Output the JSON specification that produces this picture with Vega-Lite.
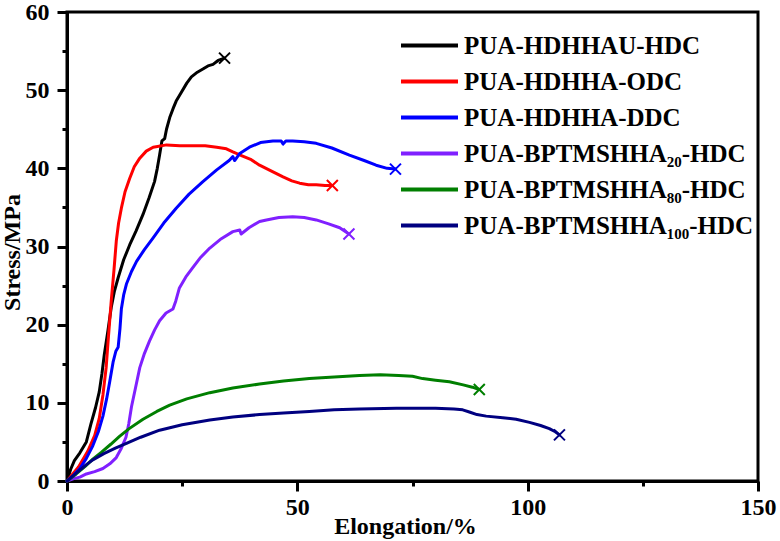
{
  "$schema": "https://vega.github.io/schema/vega-lite/v6.json",
  "autosize": {"type": "none"},
  "width": 691,
  "height": 469,
  "padding": {"left": 67, "top": 12, "right": 22, "bottom": 60},
  "background": "white",
  "config": {
    "view": {"stroke": "black", "strokeWidth": 3},
    "axis": {
      "grid": false,
      "domainColor": "black",
      "domainWidth": 3,
      "tickColor": "black",
      "tickWidth": 3,
      "labelFont": "Liberation Serif",
      "labelFontWeight": "bold",
      "labelFontSize": 24,
      "labelColor": "black",
      "titleFont": "Liberation Serif",
      "titleFontWeight": "bold",
      "titleFontSize": 24,
      "titleColor": "black"
    },
    "legend": {
      "orient": "none",
      "legendX": 350,
      "legendY": 21,
      "title": null,
      "symbolType": "M-3,0H3",
      "symbolSize": 361,
      "symbolStrokeWidth": 4,
      "labelFont": "Liberation Serif",
      "labelFontWeight": "bold",
      "labelFontSize": 25,
      "labelColor": "black",
      "labelOffset": 22,
      "labelLimit": 0,
      "rowPadding": 10
    }
  },
  "datasets": {
    "curves": [
      {"s": "PUA-HDHHAU-HDC", "x": 0, "y": 0},
      {"s": "PUA-HDHHAU-HDC", "x": 0.8, "y": 1.5},
      {"s": "PUA-HDHHAU-HDC", "x": 1.6, "y": 2.6},
      {"s": "PUA-HDHHAU-HDC", "x": 2.8, "y": 3.6},
      {"s": "PUA-HDHHAU-HDC", "x": 4.2, "y": 5.0},
      {"s": "PUA-HDHHAU-HDC", "x": 5.2, "y": 7.3},
      {"s": "PUA-HDHHAU-HDC", "x": 6.2, "y": 9.4},
      {"s": "PUA-HDHHAU-HDC", "x": 7.0, "y": 11.4},
      {"s": "PUA-HDHHAU-HDC", "x": 7.6, "y": 13.8},
      {"s": "PUA-HDHHAU-HDC", "x": 8.1, "y": 16.2},
      {"s": "PUA-HDHHAU-HDC", "x": 8.9, "y": 19.3},
      {"s": "PUA-HDHHAU-HDC", "x": 9.6, "y": 22.2},
      {"s": "PUA-HDHHAU-HDC", "x": 10.3, "y": 24.3},
      {"s": "PUA-HDHHAU-HDC", "x": 11.1, "y": 26.0},
      {"s": "PUA-HDHHAU-HDC", "x": 12.3, "y": 28.3},
      {"s": "PUA-HDHHAU-HDC", "x": 13.6, "y": 30.2},
      {"s": "PUA-HDHHAU-HDC", "x": 15.0, "y": 32.0},
      {"s": "PUA-HDHHAU-HDC", "x": 16.5, "y": 34.1},
      {"s": "PUA-HDHHAU-HDC", "x": 17.8, "y": 36.2},
      {"s": "PUA-HDHHAU-HDC", "x": 19.0, "y": 38.3},
      {"s": "PUA-HDHHAU-HDC", "x": 19.6, "y": 40.0},
      {"s": "PUA-HDHHAU-HDC", "x": 20.1, "y": 41.7},
      {"s": "PUA-HDHHAU-HDC", "x": 20.6, "y": 43.5},
      {"s": "PUA-HDHHAU-HDC", "x": 21.2, "y": 43.8},
      {"s": "PUA-HDHHAU-HDC", "x": 21.6, "y": 45.0},
      {"s": "PUA-HDHHAU-HDC", "x": 22.3, "y": 46.5},
      {"s": "PUA-HDHHAU-HDC", "x": 23.0, "y": 47.6},
      {"s": "PUA-HDHHAU-HDC", "x": 23.7, "y": 48.6},
      {"s": "PUA-HDHHAU-HDC", "x": 24.8, "y": 49.7},
      {"s": "PUA-HDHHAU-HDC", "x": 26.0, "y": 50.9},
      {"s": "PUA-HDHHAU-HDC", "x": 27.0, "y": 51.7},
      {"s": "PUA-HDHHAU-HDC", "x": 28.3, "y": 52.3},
      {"s": "PUA-HDHHAU-HDC", "x": 29.5, "y": 52.7},
      {"s": "PUA-HDHHAU-HDC", "x": 30.6, "y": 53.1},
      {"s": "PUA-HDHHAU-HDC", "x": 31.7, "y": 53.3},
      {"s": "PUA-HDHHAU-HDC", "x": 32.8, "y": 53.8},
      {"s": "PUA-HDHHAU-HDC", "x": 34.2, "y": 54.1},

      {"s": "PUA-HDHHA-ODC", "x": 0, "y": 0},
      {"s": "PUA-HDHHA-ODC", "x": 2.5, "y": 1.8},
      {"s": "PUA-HDHHA-ODC", "x": 4.5, "y": 3.8},
      {"s": "PUA-HDHHA-ODC", "x": 6.0, "y": 5.8},
      {"s": "PUA-HDHHA-ODC", "x": 7.0, "y": 8.0},
      {"s": "PUA-HDHHA-ODC", "x": 7.8, "y": 11.0},
      {"s": "PUA-HDHHA-ODC", "x": 8.5, "y": 14.5},
      {"s": "PUA-HDHHA-ODC", "x": 9.0, "y": 18.5},
      {"s": "PUA-HDHHA-ODC", "x": 9.6, "y": 23.0},
      {"s": "PUA-HDHHA-ODC", "x": 10.2, "y": 27.0},
      {"s": "PUA-HDHHA-ODC", "x": 10.7, "y": 30.7},
      {"s": "PUA-HDHHA-ODC", "x": 11.2, "y": 33.0},
      {"s": "PUA-HDHHA-ODC", "x": 11.8, "y": 34.9},
      {"s": "PUA-HDHHA-ODC", "x": 12.6, "y": 37.0},
      {"s": "PUA-HDHHA-ODC", "x": 13.6, "y": 38.7},
      {"s": "PUA-HDHHA-ODC", "x": 14.6, "y": 40.2},
      {"s": "PUA-HDHHA-ODC", "x": 15.8, "y": 41.3},
      {"s": "PUA-HDHHA-ODC", "x": 17.2, "y": 42.2},
      {"s": "PUA-HDHHA-ODC", "x": 18.7, "y": 42.7},
      {"s": "PUA-HDHHA-ODC", "x": 21.6, "y": 43.0},
      {"s": "PUA-HDHHA-ODC", "x": 24.5, "y": 42.9},
      {"s": "PUA-HDHHA-ODC", "x": 27.3, "y": 42.9},
      {"s": "PUA-HDHHA-ODC", "x": 30.0, "y": 42.9},
      {"s": "PUA-HDHHA-ODC", "x": 32.5, "y": 42.7},
      {"s": "PUA-HDHHA-ODC", "x": 34.6, "y": 42.5},
      {"s": "PUA-HDHHA-ODC", "x": 36.0, "y": 42.1},
      {"s": "PUA-HDHHA-ODC", "x": 38.0, "y": 41.6},
      {"s": "PUA-HDHHA-ODC", "x": 40.0, "y": 41.1},
      {"s": "PUA-HDHHA-ODC", "x": 41.8, "y": 40.4},
      {"s": "PUA-HDHHA-ODC", "x": 44.5, "y": 39.6},
      {"s": "PUA-HDHHA-ODC", "x": 46.9, "y": 38.9},
      {"s": "PUA-HDHHA-ODC", "x": 48.8, "y": 38.4},
      {"s": "PUA-HDHHA-ODC", "x": 50.5, "y": 38.1},
      {"s": "PUA-HDHHA-ODC", "x": 52.4, "y": 37.9},
      {"s": "PUA-HDHHA-ODC", "x": 54.1, "y": 37.9},
      {"s": "PUA-HDHHA-ODC", "x": 56.0, "y": 37.8},
      {"s": "PUA-HDHHA-ODC", "x": 57.6, "y": 37.8},

      {"s": "PUA-HDHHA-DDC", "x": 0, "y": 0},
      {"s": "PUA-HDHHA-DDC", "x": 1.5, "y": 0.8},
      {"s": "PUA-HDHHA-DDC", "x": 2.8, "y": 1.6},
      {"s": "PUA-HDHHA-DDC", "x": 4.2, "y": 2.9},
      {"s": "PUA-HDHHA-DDC", "x": 5.6, "y": 4.5},
      {"s": "PUA-HDHHA-DDC", "x": 6.8, "y": 6.3},
      {"s": "PUA-HDHHA-DDC", "x": 7.8, "y": 8.3},
      {"s": "PUA-HDHHA-DDC", "x": 8.6, "y": 10.5},
      {"s": "PUA-HDHHA-DDC", "x": 9.3, "y": 12.8},
      {"s": "PUA-HDHHA-DDC", "x": 10.0, "y": 15.2},
      {"s": "PUA-HDHHA-DDC", "x": 10.6, "y": 16.6},
      {"s": "PUA-HDHHA-DDC", "x": 11.1, "y": 17.1},
      {"s": "PUA-HDHHA-DDC", "x": 11.5, "y": 19.5},
      {"s": "PUA-HDHHA-DDC", "x": 11.8, "y": 22.0},
      {"s": "PUA-HDHHA-DDC", "x": 12.3, "y": 23.8},
      {"s": "PUA-HDHHA-DDC", "x": 12.9, "y": 25.2},
      {"s": "PUA-HDHHA-DDC", "x": 14.0, "y": 26.8},
      {"s": "PUA-HDHHA-DDC", "x": 15.1, "y": 28.1},
      {"s": "PUA-HDHHA-DDC", "x": 16.8, "y": 29.6},
      {"s": "PUA-HDHHA-DDC", "x": 18.7, "y": 31.1},
      {"s": "PUA-HDHHA-DDC", "x": 21.0, "y": 33.0},
      {"s": "PUA-HDHHA-DDC", "x": 23.7, "y": 34.9},
      {"s": "PUA-HDHHA-DDC", "x": 26.5, "y": 36.7},
      {"s": "PUA-HDHHA-DDC", "x": 29.5, "y": 38.3},
      {"s": "PUA-HDHHA-DDC", "x": 32.5, "y": 39.8},
      {"s": "PUA-HDHHA-DDC", "x": 35.2, "y": 41.0},
      {"s": "PUA-HDHHA-DDC", "x": 36.0, "y": 41.5},
      {"s": "PUA-HDHHA-DDC", "x": 36.4, "y": 41.0},
      {"s": "PUA-HDHHA-DDC", "x": 37.5, "y": 41.9},
      {"s": "PUA-HDHHA-DDC", "x": 39.6, "y": 42.7},
      {"s": "PUA-HDHHA-DDC", "x": 42.0, "y": 43.3},
      {"s": "PUA-HDHHA-DDC", "x": 44.7, "y": 43.5},
      {"s": "PUA-HDHHA-DDC", "x": 46.5, "y": 43.5},
      {"s": "PUA-HDHHA-DDC", "x": 46.9, "y": 43.1},
      {"s": "PUA-HDHHA-DDC", "x": 47.5, "y": 43.5},
      {"s": "PUA-HDHHA-DDC", "x": 49.0, "y": 43.5},
      {"s": "PUA-HDHHA-DDC", "x": 51.5, "y": 43.4},
      {"s": "PUA-HDHHA-DDC", "x": 54.1, "y": 43.2},
      {"s": "PUA-HDHHA-DDC", "x": 57.5, "y": 42.6},
      {"s": "PUA-HDHHA-DDC", "x": 61.3, "y": 41.7},
      {"s": "PUA-HDHHA-DDC", "x": 64.5, "y": 41.0},
      {"s": "PUA-HDHHA-DDC", "x": 67.1, "y": 40.4},
      {"s": "PUA-HDHHA-DDC", "x": 69.5, "y": 40.0},
      {"s": "PUA-HDHHA-DDC", "x": 71.3, "y": 39.9},

      {"s": "PUA-BPTMSHHA₂₀-HDC", "x": 0, "y": 0},
      {"s": "PUA-BPTMSHHA₂₀-HDC", "x": 1.5, "y": 0.3},
      {"s": "PUA-BPTMSHHA₂₀-HDC", "x": 2.8, "y": 0.5},
      {"s": "PUA-BPTMSHHA₂₀-HDC", "x": 4.2, "y": 0.9},
      {"s": "PUA-BPTMSHHA₂₀-HDC", "x": 6.0, "y": 1.2},
      {"s": "PUA-BPTMSHHA₂₀-HDC", "x": 7.8, "y": 1.6},
      {"s": "PUA-BPTMSHHA₂₀-HDC", "x": 9.3, "y": 2.2},
      {"s": "PUA-BPTMSHHA₂₀-HDC", "x": 10.7, "y": 3.0},
      {"s": "PUA-BPTMSHHA₂₀-HDC", "x": 11.8, "y": 4.2},
      {"s": "PUA-BPTMSHHA₂₀-HDC", "x": 12.8, "y": 5.6},
      {"s": "PUA-BPTMSHHA₂₀-HDC", "x": 13.4, "y": 7.3},
      {"s": "PUA-BPTMSHHA₂₀-HDC", "x": 14.0, "y": 9.5},
      {"s": "PUA-BPTMSHHA₂₀-HDC", "x": 14.9, "y": 12.0},
      {"s": "PUA-BPTMSHHA₂₀-HDC", "x": 15.8, "y": 14.5},
      {"s": "PUA-BPTMSHHA₂₀-HDC", "x": 16.8, "y": 16.3},
      {"s": "PUA-BPTMSHHA₂₀-HDC", "x": 17.9, "y": 17.9},
      {"s": "PUA-BPTMSHHA₂₀-HDC", "x": 19.0, "y": 19.3},
      {"s": "PUA-BPTMSHHA₂₀-HDC", "x": 20.1, "y": 20.5},
      {"s": "PUA-BPTMSHHA₂₀-HDC", "x": 21.5, "y": 21.5},
      {"s": "PUA-BPTMSHHA₂₀-HDC", "x": 23.0, "y": 22.0},
      {"s": "PUA-BPTMSHHA₂₀-HDC", "x": 23.6, "y": 23.0},
      {"s": "PUA-BPTMSHHA₂₀-HDC", "x": 24.4, "y": 24.7},
      {"s": "PUA-BPTMSHHA₂₀-HDC", "x": 25.8, "y": 26.1},
      {"s": "PUA-BPTMSHHA₂₀-HDC", "x": 27.3, "y": 27.3},
      {"s": "PUA-BPTMSHHA₂₀-HDC", "x": 29.0, "y": 28.6},
      {"s": "PUA-BPTMSHHA₂₀-HDC", "x": 31.0, "y": 29.8},
      {"s": "PUA-BPTMSHHA₂₀-HDC", "x": 33.5, "y": 31.0},
      {"s": "PUA-BPTMSHHA₂₀-HDC", "x": 36.0, "y": 31.9},
      {"s": "PUA-BPTMSHHA₂₀-HDC", "x": 37.5, "y": 32.1},
      {"s": "PUA-BPTMSHHA₂₀-HDC", "x": 37.8, "y": 31.6},
      {"s": "PUA-BPTMSHHA₂₀-HDC", "x": 39.5, "y": 32.4},
      {"s": "PUA-BPTMSHHA₂₀-HDC", "x": 41.8, "y": 33.2},
      {"s": "PUA-BPTMSHHA₂₀-HDC", "x": 43.3, "y": 33.4},
      {"s": "PUA-BPTMSHHA₂₀-HDC", "x": 46.0, "y": 33.7},
      {"s": "PUA-BPTMSHHA₂₀-HDC", "x": 49.0, "y": 33.8},
      {"s": "PUA-BPTMSHHA₂₀-HDC", "x": 51.5, "y": 33.7},
      {"s": "PUA-BPTMSHHA₂₀-HDC", "x": 54.1, "y": 33.4},
      {"s": "PUA-BPTMSHHA₂₀-HDC", "x": 56.8, "y": 32.9},
      {"s": "PUA-BPTMSHHA₂₀-HDC", "x": 59.2, "y": 32.4},
      {"s": "PUA-BPTMSHHA₂₀-HDC", "x": 61.2, "y": 31.6},

      {"s": "PUA-BPTMSHHA₈₀-HDC", "x": 0, "y": 0},
      {"s": "PUA-BPTMSHHA₈₀-HDC", "x": 2.0, "y": 0.9},
      {"s": "PUA-BPTMSHHA₈₀-HDC", "x": 4.0, "y": 1.9},
      {"s": "PUA-BPTMSHHA₈₀-HDC", "x": 5.6, "y": 2.8},
      {"s": "PUA-BPTMSHHA₈₀-HDC", "x": 7.5, "y": 3.7},
      {"s": "PUA-BPTMSHHA₈₀-HDC", "x": 9.5, "y": 4.7},
      {"s": "PUA-BPTMSHHA₈₀-HDC", "x": 11.4, "y": 5.7},
      {"s": "PUA-BPTMSHHA₈₀-HDC", "x": 13.5, "y": 6.7},
      {"s": "PUA-BPTMSHHA₈₀-HDC", "x": 16.5, "y": 7.9},
      {"s": "PUA-BPTMSHHA₈₀-HDC", "x": 19.5, "y": 8.9},
      {"s": "PUA-BPTMSHHA₈₀-HDC", "x": 22.3, "y": 9.7},
      {"s": "PUA-BPTMSHHA₈₀-HDC", "x": 26.0, "y": 10.5},
      {"s": "PUA-BPTMSHHA₈₀-HDC", "x": 31.0, "y": 11.3},
      {"s": "PUA-BPTMSHHA₈₀-HDC", "x": 36.0, "y": 11.9},
      {"s": "PUA-BPTMSHHA₈₀-HDC", "x": 41.8, "y": 12.4},
      {"s": "PUA-BPTMSHHA₈₀-HDC", "x": 47.0, "y": 12.8},
      {"s": "PUA-BPTMSHHA₈₀-HDC", "x": 52.6, "y": 13.1},
      {"s": "PUA-BPTMSHHA₈₀-HDC", "x": 58.0, "y": 13.3},
      {"s": "PUA-BPTMSHHA₈₀-HDC", "x": 63.5, "y": 13.5},
      {"s": "PUA-BPTMSHHA₈₀-HDC", "x": 68.0, "y": 13.6},
      {"s": "PUA-BPTMSHHA₈₀-HDC", "x": 72.0, "y": 13.5},
      {"s": "PUA-BPTMSHHA₈₀-HDC", "x": 75.0, "y": 13.4},
      {"s": "PUA-BPTMSHHA₈₀-HDC", "x": 77.2, "y": 13.1},
      {"s": "PUA-BPTMSHHA₈₀-HDC", "x": 80.0, "y": 12.9},
      {"s": "PUA-BPTMSHHA₈₀-HDC", "x": 83.0, "y": 12.7},
      {"s": "PUA-BPTMSHHA₈₀-HDC", "x": 86.0, "y": 12.3},
      {"s": "PUA-BPTMSHHA₈₀-HDC", "x": 88.0, "y": 12.0},
      {"s": "PUA-BPTMSHHA₈₀-HDC", "x": 89.5, "y": 11.7},

      {"s": "PUA-BPTMSHHA₁₀₀-HDC", "x": 0, "y": 0},
      {"s": "PUA-BPTMSHHA₁₀₀-HDC", "x": 2.0, "y": 1.0},
      {"s": "PUA-BPTMSHHA₁₀₀-HDC", "x": 4.0, "y": 2.0},
      {"s": "PUA-BPTMSHHA₁₀₀-HDC", "x": 5.6, "y": 2.7},
      {"s": "PUA-BPTMSHHA₁₀₀-HDC", "x": 8.0, "y": 3.5},
      {"s": "PUA-BPTMSHHA₁₀₀-HDC", "x": 10.5, "y": 4.2},
      {"s": "PUA-BPTMSHHA₁₀₀-HDC", "x": 12.9, "y": 4.8},
      {"s": "PUA-BPTMSHHA₁₀₀-HDC", "x": 16.0, "y": 5.6},
      {"s": "PUA-BPTMSHHA₁₀₀-HDC", "x": 20.1, "y": 6.5},
      {"s": "PUA-BPTMSHHA₁₀₀-HDC", "x": 25.0, "y": 7.2},
      {"s": "PUA-BPTMSHHA₁₀₀-HDC", "x": 31.0, "y": 7.8},
      {"s": "PUA-BPTMSHHA₁₀₀-HDC", "x": 36.0, "y": 8.2},
      {"s": "PUA-BPTMSHHA₁₀₀-HDC", "x": 41.8, "y": 8.5},
      {"s": "PUA-BPTMSHHA₁₀₀-HDC", "x": 47.0, "y": 8.7},
      {"s": "PUA-BPTMSHHA₁₀₀-HDC", "x": 52.6, "y": 8.9},
      {"s": "PUA-BPTMSHHA₁₀₀-HDC", "x": 58.0, "y": 9.1},
      {"s": "PUA-BPTMSHHA₁₀₀-HDC", "x": 63.5, "y": 9.2},
      {"s": "PUA-BPTMSHHA₁₀₀-HDC", "x": 71.5, "y": 9.3},
      {"s": "PUA-BPTMSHHA₁₀₀-HDC", "x": 80.0, "y": 9.3},
      {"s": "PUA-BPTMSHHA₁₀₀-HDC", "x": 84.0, "y": 9.2},
      {"s": "PUA-BPTMSHHA₁₀₀-HDC", "x": 85.9, "y": 9.1},
      {"s": "PUA-BPTMSHHA₁₀₀-HDC", "x": 87.5, "y": 8.8},
      {"s": "PUA-BPTMSHHA₁₀₀-HDC", "x": 89.0, "y": 8.5},
      {"s": "PUA-BPTMSHHA₁₀₀-HDC", "x": 91.0, "y": 8.3},
      {"s": "PUA-BPTMSHHA₁₀₀-HDC", "x": 94.6, "y": 8.1},
      {"s": "PUA-BPTMSHHA₁₀₀-HDC", "x": 97.5, "y": 7.9},
      {"s": "PUA-BPTMSHHA₁₀₀-HDC", "x": 100.4, "y": 7.5},
      {"s": "PUA-BPTMSHHA₁₀₀-HDC", "x": 102.8, "y": 7.1},
      {"s": "PUA-BPTMSHHA₁₀₀-HDC", "x": 104.7, "y": 6.7},
      {"s": "PUA-BPTMSHHA₁₀₀-HDC", "x": 106.0, "y": 6.3},
      {"s": "PUA-BPTMSHHA₁₀₀-HDC", "x": 106.9, "y": 5.9}
    ],
    "breaks": [
      {"s": "PUA-HDHHAU-HDC", "x": 34.2, "y": 54.1},
      {"s": "PUA-HDHHA-ODC", "x": 57.6, "y": 37.8},
      {"s": "PUA-HDHHA-DDC", "x": 71.3, "y": 39.9},
      {"s": "PUA-BPTMSHHA₂₀-HDC", "x": 61.2, "y": 31.6},
      {"s": "PUA-BPTMSHHA₈₀-HDC", "x": 89.5, "y": 11.7},
      {"s": "PUA-BPTMSHHA₁₀₀-HDC", "x": 106.9, "y": 5.9}
    ]
  },
  "encoding": {
    "x": {
      "field": "x",
      "type": "quantitative",
      "scale": {"domain": [0, 150], "nice": false, "zero": false},
      "axis": {
        "title": "Elongation/%",
        "values": [0, 25, 50, 75, 100, 125, 150],
        "labelExpr": "datum.value % 50 === 0 ? datum.label : ''",
        "tickSize": {"condition": {"test": "datum.value % 50 === 0", "value": 10}, "value": 5},
        "labelPadding": 4,
        "labelFlush": false,
        "titleX": 338,
        "titleY": 52,
        "titleBaseline": "alphabetic",
        "titleAnchor": "middle",
        "titleAlign": "center"
      }
    },
    "y": {
      "field": "y",
      "type": "quantitative",
      "scale": {"domain": [0, 60], "nice": false, "zero": false},
      "axis": {
        "title": "Stress/MPa",
        "values": [0, 5, 10, 15, 20, 25, 30, 35, 40, 45, 50, 55, 60],
        "labelExpr": "datum.value % 10 === 0 ? datum.label : ''",
        "tickSize": {"condition": {"test": "datum.value % 10 === 0", "value": 10}, "value": 5},
        "labelPadding": 8,
        "labelFlush": false,
        "titleAngle": -90,
        "titleX": -48,
        "titleY": 240,
        "titleBaseline": "alphabetic",
        "titleAlign": "center"
      }
    },
    "color": {
      "field": "s",
      "type": "nominal",
      "scale": {
        "domain": ["PUA-HDHHAU-HDC", "PUA-HDHHA-ODC", "PUA-HDHHA-DDC", "PUA-BPTMSHHA₂₀-HDC", "PUA-BPTMSHHA₈₀-HDC", "PUA-BPTMSHHA₁₀₀-HDC"],
        "range": ["#000000", "#ff0000", "#0000ff", "#8020ff", "#007f00", "#000080"]
      }
    }
  },
  "layer": [
    {
      "data": {"name": "curves"},
      "mark": {"type": "line", "strokeWidth": 3, "strokeJoin": "round", "strokeCap": "round"}
    },
    {
      "data": {"name": "breaks"},
      "mark": {"type": "point", "shape": "M-1,-1L1,1M-1,1L1,-1", "filled": false, "size": 121, "strokeWidth": 2, "opacity": 1}
    }
  ]
}
